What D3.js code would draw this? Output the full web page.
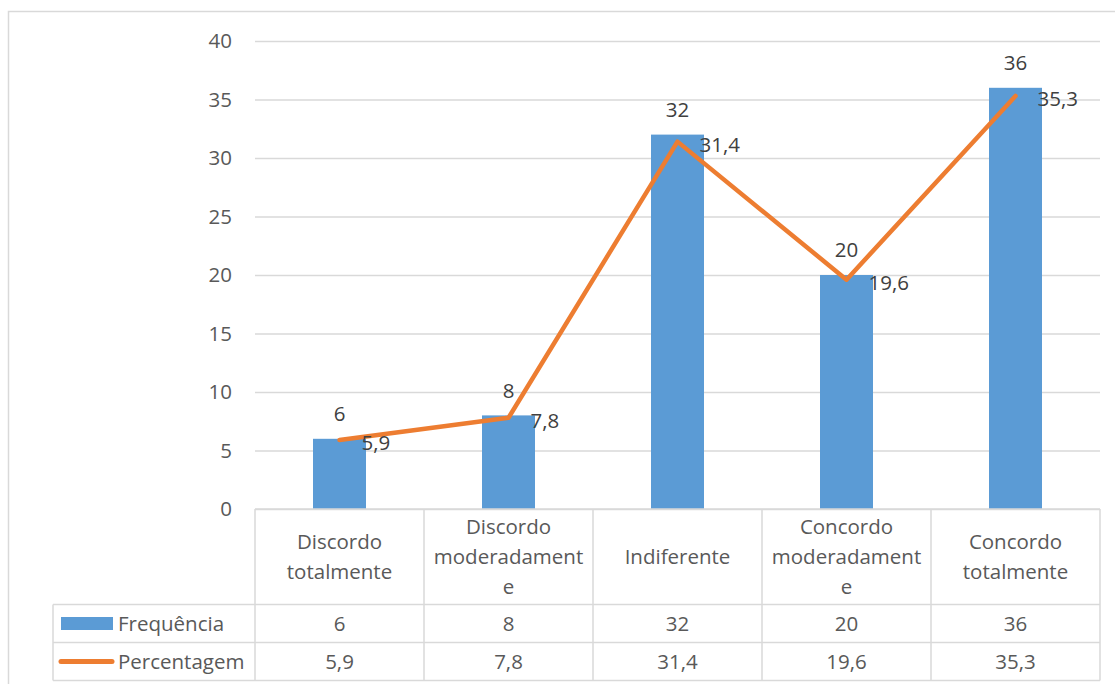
<!DOCTYPE html>
<html>
<head>
<meta charset="utf-8">
<script src="https://cdn.jsdelivr.net/npm/d3@7"></script>
<style>
  html, body { margin: 0; padding: 0; background: #fff; }
  svg { display: block; font-family: "Open Sans", sans-serif; }
</style>
</head>
<body>
<svg id="chart" width="1115" height="684"></svg>
<script>
// ---- data ----
const categories = ["Discordo totalmente", "Discordo moderadamente", "Indiferente", "Concordo moderadamente", "Concordo totalmente"];
const categoryLines = [["Discordo", "totalmente"], ["Discordo", "moderadament", "e"], ["Indiferente"], ["Concordo", "moderadament", "e"], ["Concordo", "totalmente"]];
const frequencia = [6, 8, 32, 20, 36];
const percentagem = [5.9, 7.8, 31.4, 19.6, 35.3];
const percentLabels = ["5,9", "7,8", "31,4", "19,6", "35,3"];
const yTicks = [0, 5, 10, 15, 20, 25, 30, 35, 40];
const seriesNames = ["Frequência", "Percentagem"];

// ---- layout ----
const svg = d3.select("#chart");
const plotLeft = 255, plotRight = 1100, plotTop = 41, plotBottom = 509;
const tableLeft = 53, headerBottom = 604.5, row1Bottom = 642.5, tableBottom = 680.5;
const textColor = "#595959", labelColor = "#404040", gridColor = "#D9D9D9";
const barColor = "#5B9BD5", lineColor = "#ED7D31";
const fontSize = 20.5;

// outer border
svg.append("rect").attr("x", 8.5).attr("y", 11.5).attr("width", 1200).attr("height", 800)
  .attr("fill", "none").attr("stroke", gridColor).attr("stroke-width", 1.5);

const x = d3.scaleBand().domain(categories).range([plotLeft, plotRight]).paddingInner(0).paddingOuter(0);
const y = d3.scaleLinear().domain([0, 40]).range([plotBottom, plotTop]);

// y axis + grid
const yAxis = d3.axisLeft(y).tickValues(yTicks).tickSize(-(plotRight - plotLeft)).tickPadding(23).tickFormat(d3.format("d"));
const gy = svg.append("g").attr("transform", `translate(${plotLeft},0)`).call(yAxis);
gy.select(".domain").remove();
gy.selectAll(".tick line").attr("stroke", gridColor).attr("stroke-width", 1.3);
gy.selectAll(".tick text").attr("fill", textColor).style("font-size", fontSize + "px")
  .style("font-family", "'Open Sans', sans-serif");

// bars
const barW = 53;
svg.append("g").selectAll("rect").data(frequencia).join("rect")
  .attr("x", (d, i) => x(categories[i]) + x.bandwidth() / 2 - barW / 2)
  .attr("y", d => y(d))
  .attr("width", barW)
  .attr("height", d => y(0) - y(d))
  .attr("fill", barColor);

// line
const line = d3.line()
  .x((d, i) => x(categories[i]) + x.bandwidth() / 2)
  .y(d => y(d));
svg.append("path").datum(percentagem).attr("d", line)
  .attr("fill", "none").attr("stroke", lineColor).attr("stroke-width", 4.5)
  .attr("stroke-linejoin", "round").attr("stroke-linecap", "round");

// bar labels
svg.append("g").selectAll("text").data(frequencia).join("text")
  .attr("x", (d, i) => x(categories[i]) + x.bandwidth() / 2)
  .attr("y", d => y(d) - 25)
  .attr("dy", "0.35em")
  .attr("text-anchor", "middle")
  .attr("fill", labelColor).style("font-size", fontSize + "px")
  .text(d => d);

// line labels
svg.append("g").selectAll("text").data(percentagem).join("text")
  .attr("x", (d, i) => x(categories[i]) + x.bandwidth() / 2 + 22)
  .attr("y", d => y(d) + 3)
  .attr("dy", "0.35em")
  .attr("text-anchor", "start")
  .attr("fill", labelColor).style("font-size", fontSize + "px")
  .text((d, i) => percentLabels[i]);

// ---- data table ----
const tg = svg.append("g").attr("stroke", gridColor).attr("stroke-width", 1.5);
tg.append("line").attr("x1", plotLeft).attr("x2", plotRight).attr("y1", plotBottom).attr("y2", plotBottom);
[headerBottom, row1Bottom, tableBottom].forEach(yy => {
  tg.append("line").attr("x1", tableLeft).attr("x2", plotRight).attr("y1", yy).attr("y2", yy);
});
tg.append("line").attr("x1", tableLeft).attr("x2", tableLeft).attr("y1", headerBottom).attr("y2", tableBottom);
const colEdges = categories.map(c => x(c)).concat([plotRight]);
colEdges.forEach(xx => {
  tg.append("line").attr("x1", xx).attr("x2", xx).attr("y1", plotBottom).attr("y2", tableBottom);
});

// header text
const headerMid = (plotBottom + headerBottom) / 2;
const lh = 30;
categoryLines.forEach((lines, i) => {
  const cx = x(categories[i]) + x.bandwidth() / 2;
  const t = svg.append("text").attr("text-anchor", "middle").attr("fill", textColor)
    .style("font-size", fontSize + "px");
  lines.forEach((ln, j) => {
    t.append("tspan").attr("x", cx)
      .attr("y", headerMid - (lines.length - 1) * lh / 2 + j * lh)
      .attr("dy", "0.35em").text(ln);
  });
});

// row values
const row1Mid = (headerBottom + row1Bottom) / 2;
const row2Mid = (row1Bottom + tableBottom) / 2;
svg.append("g").selectAll("text").data(frequencia).join("text")
  .attr("x", (d, i) => x(categories[i]) + x.bandwidth() / 2)
  .attr("y", row1Mid).attr("dy", "0.35em").attr("text-anchor", "middle")
  .attr("fill", textColor).style("font-size", fontSize + "px").text(d => d);
svg.append("g").selectAll("text").data(percentLabels).join("text")
  .attr("x", (d, i) => x(categories[i]) + x.bandwidth() / 2)
  .attr("y", row2Mid).attr("dy", "0.35em").attr("text-anchor", "middle")
  .attr("fill", textColor).style("font-size", fontSize + "px").text(d => d);

// legend keys inside table
svg.append("rect").attr("x", 61).attr("y", row1Mid - 6.5).attr("width", 52).attr("height", 13).attr("fill", barColor);
svg.append("line").attr("x1", 61).attr("x2", 112).attr("y1", row2Mid).attr("y2", row2Mid)
  .attr("stroke", lineColor).attr("stroke-width", 5).attr("stroke-linecap", "round");
svg.append("text").attr("x", 118).attr("y", row1Mid).attr("dy", "0.35em")
  .attr("fill", textColor).style("font-size", fontSize + "px").text(seriesNames[0]);
svg.append("text").attr("x", 118).attr("y", row2Mid).attr("dy", "0.35em")
  .attr("fill", textColor).style("font-size", fontSize + "px").text(seriesNames[1]);
</script>
</body>
</html>
